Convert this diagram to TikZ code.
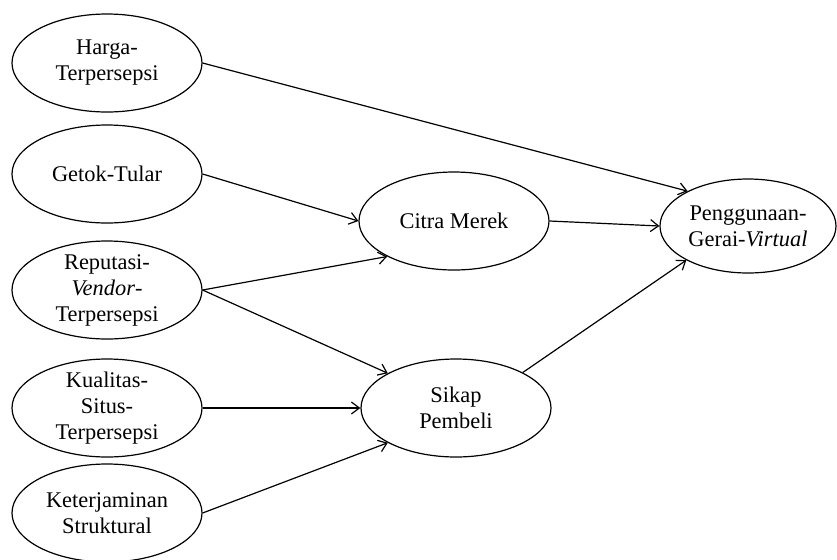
\documentclass[tikz,border=0pt]{standalone}
\usepackage{fontspec}
\setmainfont{Liberation Serif}
\usetikzlibrary{shapes.geometric}
\usetikzlibrary{arrows.meta}
\def\vw{95pt}
\def\vh{49pt}
\tikzset{
    construct/.style = {
        draw, ellipse, minimum width=\vw, minimum height=\vh, align=center,
        inner xsep=0pt, inner ysep=-1pt, line width=0.6pt,
        font=\fontsize{11.2}{13}\selectfont
    },
}
\begin{document}
\begin{tikzpicture}[x=0.5pt, y=-0.5pt]
        \useasboundingbox (0,0) rectangle (837,559);

        % Place the constructs
        \node[construct] (harga) at (107,63) {Harga-\\Terpersepsi};
        \node[construct] (getok) at (107,174) {Getok-Tular};
        \node[construct] (reputasi) at (107,290) {Reputasi-\\\textit{Vendor}-\\Terpersepsi};
        \node[construct] (kualitas) at (107,408) {Kualitas-\\Situs-\\Terpersepsi};
        \node[construct] (struktural) at (107,513) {Keterjaminan\\Struktural};
        \node[construct] (citra) at (454,221) {Citra Merek};
        \node[construct] (sikap) at (456,408) {Sikap\\Pembeli};
        \node[construct, minimum width=88pt, minimum height=47pt] (gerai) at (748,226) {Penggunaan-\\Gerai-\textit{Virtual}};

        % Draw connections
        \begin{scope}[line width=0.6pt, >={Straight Barb[length=4pt,width=6pt]}]
            \draw[->] (harga.east) -- (gerai.150);
            \draw[->] (getok.east) -- (citra.west);
            \draw[->] (reputasi.east) -- (citra.208);
            \draw[->] (reputasi.east) -- (sikap.153);
            \draw[->] (kualitas.east) -- (sikap.west);
            \draw[->] (struktural.east) -- (sikap.207);
            \draw[->] (citra.east) -- (gerai.west);
            \draw[->] (sikap.28) -- (gerai.209);
        \end{scope}
\end{tikzpicture}
\end{document}
